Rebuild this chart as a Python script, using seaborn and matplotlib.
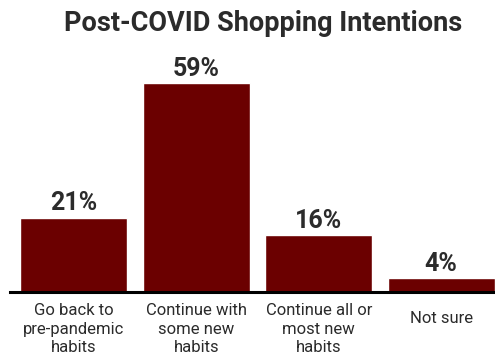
import matplotlib
matplotlib.use("Agg")
import matplotlib.pyplot as plt
import matplotlib.transforms as mtransforms
import pandas as pd
import seaborn as sns

# ── Data ─────────────────────────────────────────────────────────────────────
categories = ["Go back to\npre-pandemic\nhabits", "Continue with\nsome new\nhabits",
              "Continue all or\nmost new\nhabits", "Not sure"]
shares = [21, 59, 16, 4]

BAR_COLOR = "#6B0000"
TEXT_COLOR = "#2B2B2B"

sns.set_style("white")
plt.rcParams["font.family"] = ["Roboto", "DejaVu Sans"]

df = pd.DataFrame({"answer": categories, "share": shares})

fig = plt.figure(figsize=(4.95, 3.56), dpi=100)
ax = fig.add_axes([0.0202, 0.1798, 0.98, 0.6966])

sns.barplot(data=df, x="answer", y="share", color=BAR_COLOR, saturation=1,
            width=0.875, ax=ax)

ax.set_xlim(-0.52, 3.44)
ax.set_ylim(0, 70)
ax.set_xlabel("")
ax.set_ylabel("")
ax.set_yticks([])
ax.tick_params(axis="x", length=0, pad=8, labelsize=12, labelcolor=TEXT_COLOR)
for lbl in ax.get_xticklabels():
    lbl.set_linespacing(1.3)
    if "\n" not in lbl.get_text():
        # single-line label sits lower, roughly mid-block
        lbl.set_transform(lbl.get_transform() +
                          mtransforms.ScaledTranslation(0, -0.08, fig.dpi_scale_trans))

for side in ["top", "right", "left"]:
    ax.spines[side].set_visible(False)
ax.spines["bottom"].set_color("black")
ax.spines["bottom"].set_linewidth(2.2)
ax.spines["bottom"].set_zorder(5)

# percentage labels above bars
for i, v in enumerate(shares):
    ax.text(i, v + 0.6, f"{v}%", ha="center", va="bottom", fontsize=18,
            fontweight="bold", color=TEXT_COLOR)

fig.text(0.531, 0.935, "Post-COVID Shopping Intentions", ha="center", va="center",
         fontsize=19.5, fontweight="bold", color=TEXT_COLOR)

fig.savefig("out.png", dpi=100)
